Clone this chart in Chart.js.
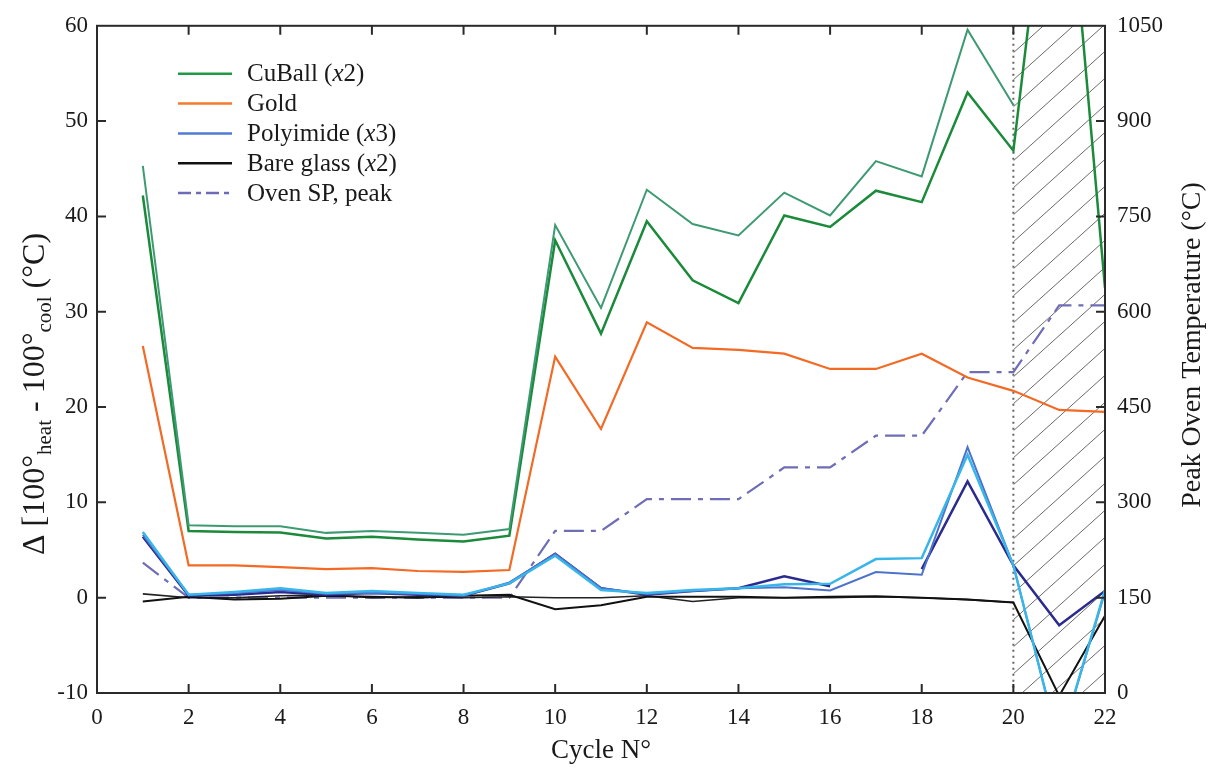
<!DOCTYPE html>
<html>
<head>
<meta charset="utf-8">
<script src="https://cdn.jsdelivr.net/npm/chart.js@4.4.1/dist/chart.umd.min.js"></script>
<style>
  html, body { margin: 0; padding: 0; background: #fff; }
  #chart { display: block; }
</style>
</head>
<body>
<canvas id="chart" width="1213" height="770"></canvas>
<script>
const cycles = [1, 2, 3, 4, 5, 6, 7, 8, 9, 10, 11, 12, 13, 14, 15, 16, 17, 18, 19, 20, 21, 22];
const cuBallA = [45.3, 7.6, 7.5, 7.5, 6.8, 7.0, 6.8, 6.6, 7.2, 39.1, 30.4, 42.8, 39.2, 38.0, 42.5, 40.1, 45.8, 44.2, 59.6, 51.7, null, null];
const cuBallB = [42.2, 7.0, 6.9, 6.85, 6.2, 6.4, 6.1, 5.9, 6.5, 37.5, 27.7, 39.5, 33.3, 30.9, 40.1, 38.9, 42.7, 41.5, 53.0, 46.9, 87, 32.5];
const gold = [26.4, 3.4, 3.4, 3.2, 3.0, 3.1, 2.8, 2.7, 2.9, 25.3, 17.7, 28.9, 26.2, 26.0, 25.6, 24.0, 24.0, 25.6, 23.1, 21.7, 19.7, 19.5];
const polyCyan = [6.9, 0.3, 0.6, 1.0, 0.5, 0.7, 0.5, 0.3, 1.5, 4.4, 0.8, 0.5, 0.8, 1.0, 1.4, 1.45, 4.05, 4.15, 15.0, 3.4, -15.5, 0.8];
const polyMed = [6.6, 0.3, 0.5, 0.8, 0.4, 0.5, 0.4, 0.2, 1.6, 4.6, 1.0, 0.4, 0.7, 1.0, 1.1, 0.75, 2.7, 2.4, 15.8, 3.4, -15.5, 0.6];
const polyNavy = [6.4, 0.2, 0.3, 0.6, 0.3, 0.5, 0.3, 0.2, 1.5, 4.6, 1.0, 0.3, 0.7, 1.0, 2.25, 1.2, null, 3.0, 12.2, 3.4, -2.9, 0.7];
const bare1 = [-0.4, 0.1, -0.2, -0.1, 0.2, 0.1, 0.0, 0.2, 0.3, -1.2, -0.8, 0.1, 0.1, 0.1, 0.0, 0.1, 0.15, 0.0, -0.2, -0.5, -10.3, -1.9];
const bare2 = [0.4, 0.0, 0.0, 0.2, 0.3, 0.0, 0.1, 0.0, 0.1, 0.0, 0.0, 0.2, -0.4, 0.0, 0.0, 0.0, 0.1, 0.0, -0.2, -0.5, null, null];
const ovenPeak = [205, 150, 150, 150, 150, 150, 150, 150, 150, 255, 255, 305, 305, 305, 355, 355, 405, 405, 505, 505, 610, 610];

const legendLabels = ['CuBall (x2)', 'Gold', 'Polyimide (x3)', 'Bare glass (x2)', 'Oven SP, peak'];
const hatchFrom = 20, hatchTo = 22;

const FONT = '"Liberation Serif", "Times New Roman", serif';

const pts = (arr) => arr.map((v, i) => ({ x: cycles[i], y: v }));

function line(label, data, color, width, extra) {
    return Object.assign({
        label: label,
        data: pts(data),
        borderColor: color,
        backgroundColor: color,
        borderWidth: width,
        pointRadius: 0,
        tension: 0,
        fill: false,
        spanGaps: false,
        yAxisID: 'y'
    }, extra || {});
}

// draw a text run where "(x2)" style multipliers get an italic x
function drawMixed(ctx, text, x, y, size) {
    const m = text.match(/^(.*\()x(\d\).*)$/);
    const parts = m ? [[m[1], false], ['x', true], [m[2], false]] : [[text, false]];
    parts.forEach(([t, it]) => {
        ctx.font = (it ? 'italic ' : '') + size + 'px ' + FONT;
        ctx.fillText(t, x, y);
        x += ctx.measureText(t).width;
    });
}

const decor = {
    id: 'decor',
    beforeDatasetsDraw(chart) {
        const { ctx, chartArea: a, scales } = chart;
        const x0 = scales.x.getPixelForValue(hatchFrom);
        const x1 = scales.x.getPixelForValue(hatchTo);
        const w = x1 - x0;
        ctx.save();
        ctx.beginPath();
        ctx.rect(x0, a.top, w, a.bottom - a.top);
        ctx.clip();
        ctx.strokeStyle = '#6a6a6a';
        ctx.lineWidth = 1;
        const slope = 0.9;
        for (let yb = a.top; yb < a.bottom + w * slope + 30; yb += 27) {
            ctx.beginPath();
            ctx.moveTo(x0, yb);
            ctx.lineTo(x1, yb - w * slope);
            ctx.stroke();
        }
        ctx.restore();
        ctx.save();
        ctx.strokeStyle = '#666';
        ctx.lineWidth = 2;
        ctx.setLineDash([2, 4]);
        ctx.beginPath();
        ctx.moveTo(x0, a.top);
        ctx.lineTo(x0, a.bottom);
        ctx.stroke();
        ctx.restore();
    },
    afterDatasetsDraw(chart) {
        const { ctx, chartArea: a, scales } = chart;
        ctx.save();
        // frame with inward ticks
        ctx.strokeStyle = '#2a2a2a';
        ctx.lineWidth = 2;
        ctx.strokeRect(a.left, a.top, a.right - a.left, a.bottom - a.top);
        ctx.beginPath();
        scales.x.ticks.forEach(t => {
            if (t.value <= 0 || t.value >= 22) return;
            const px = scales.x.getPixelForValue(t.value);
            ctx.moveTo(px, a.bottom); ctx.lineTo(px, a.bottom - 9);
            ctx.moveTo(px, a.top); ctx.lineTo(px, a.top + 9);
        });
        scales.y.ticks.forEach(t => {
            if (t.value <= -10 || t.value >= 60) return;
            const py = scales.y.getPixelForValue(t.value);
            ctx.moveTo(a.left, py); ctx.lineTo(a.left + 9, py);
        });
        scales.y2.ticks.forEach(t => {
            if (t.value <= 0 || t.value >= 1050) return;
            const py = scales.y2.getPixelForValue(t.value);
            ctx.moveTo(a.right, py); ctx.lineTo(a.right - 9, py);
        });
        ctx.stroke();

        // legend
        const styles = [
            { c: '#1f9a45', d: [] },
            { c: '#f47a2e', d: [] },
            { c: '#4f7bd2', d: [] },
            { c: '#111111', d: [] },
            { c: '#6b6bb8', d: [13, 5, 5, 5] }
        ];
        ctx.textBaseline = 'middle';
        ctx.fillStyle = '#1a1a1a';
        legendLabels.forEach((lab, i) => {
            const y = a.top + 48 + i * 29.8;
            ctx.strokeStyle = styles[i].c;
            ctx.lineWidth = 2.5;
            ctx.setLineDash(styles[i].d);
            ctx.beginPath();
            ctx.moveTo(178, y);
            ctx.lineTo(232, y);
            ctx.stroke();
            ctx.setLineDash([]);
            drawMixed(ctx, lab, 247, y + 1, 25);
        });
        ctx.restore();
    },
    afterDraw(chart) {
        const { ctx } = chart;
        ctx.save();
        ctx.fillStyle = '#1a1a1a';
        ctx.textBaseline = 'middle';
        // x title
        ctx.textAlign = 'center';
        ctx.font = '27px ' + FONT;
        ctx.fillText('Cycle N°', 601, 751);
        // right title
        ctx.save();
        ctx.translate(1193, 345);
        ctx.rotate(-Math.PI / 2);
        ctx.font = '28px ' + FONT;
        ctx.fillText('Peak Oven Temperature (°C)', 0, 0);
        ctx.restore();
        // left title with subscripts
        const runs = [
            ['Δ [100°', 32, 0], ['heat', 21, 7], [' - 100°', 32, 0], ['cool', 21, 7], [' (°C)', 32, 0]
        ];
        let total = 0;
        runs.forEach(r => { ctx.font = r[1] + 'px ' + FONT; total += ctx.measureText(r[0]).width; });
        ctx.save();
        ctx.translate(34, 394);
        ctx.rotate(-Math.PI / 2);
        ctx.textAlign = 'left';
        ctx.textBaseline = 'alphabetic';
        let x = -total / 2;
        runs.forEach(r => {
            ctx.font = r[1] + 'px ' + FONT;
            ctx.fillText(r[0], x, 10 + r[2]);
            x += ctx.measureText(r[0]).width;
        });
        ctx.restore();
        ctx.restore();
    }
};

const plainNum = (v) => String(v);

new Chart(document.getElementById('chart'), {
    type: 'line',
    data: {
        datasets: [
            line('CuBall (x2) a', cuBallA, '#3d9a72', 2),
            line('CuBall (x2) b', cuBallB, '#1b8a3a', 2.5),
            line('Gold', gold, '#f26a24', 2.2),
            line('Polyimide (x3) a', polyCyan, '#38b6ea', 2.5),
            line('Polyimide (x3) b', polyMed, '#4c72cc', 2),
            line('Polyimide (x3) c', polyNavy, '#2b2b8e', 2.5),
            line('Bare glass (x2) a', bare1, '#111111', 2),
            line('Bare glass (x2) b', bare2, '#222222', 1.6),
            line('Oven SP, peak', ovenPeak, '#6e6db6', 2.2, { yAxisID: 'y2', borderDash: [20, 7, 5, 7] })
        ]
    },
    options: {
        responsive: false,
        animation: false,
        devicePixelRatio: 1,
        layout: { padding: { top: 20, left: 0, right: 0, bottom: 0 } },
        plugins: { legend: { display: false }, tooltip: { enabled: false } },
        scales: {
            x: {
                type: 'linear', min: 0, max: 22,
                grid: { display: false, drawTicks: false },
                border: { display: false },
                ticks: { stepSize: 2, padding: 11, color: '#1a1a1a', font: { family: FONT, size: 23 }, callback: plainNum },
                afterFit: (s) => { s.height = 77; }
            },
            y: {
                type: 'linear', position: 'left', min: -10, max: 60,
                grid: { display: false, drawTicks: false },
                border: { display: false },
                ticks: { stepSize: 10, padding: 9, color: '#1a1a1a', font: { family: FONT, size: 23 }, callback: plainNum },
                afterFit: (s) => { s.width = 97; }
            },
            y2: {
                type: 'linear', position: 'right', min: 0, max: 1050,
                grid: { display: false, drawTicks: false },
                border: { display: false },
                ticks: { stepSize: 150, padding: 12, color: '#1a1a1a', font: { family: FONT, size: 23 }, callback: plainNum },
                afterFit: (s) => { s.width = 108; }
            }
        }
    },
    plugins: [decor]
});
</script>
</body>
</html>
